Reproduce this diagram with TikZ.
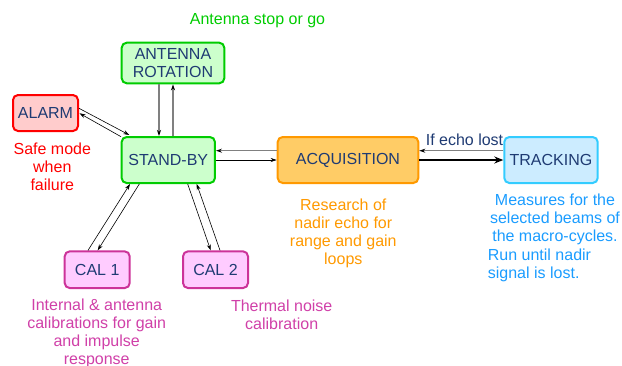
\documentclass[tikz,border=0pt]{standalone}
\usepackage{fontspec}
\setmainfont{Liberation Sans}
\usetikzlibrary{arrows.meta,calc}
\definecolor{navy}{HTML}{1F3B73}
\definecolor{gfill}{HTML}{CCFFCC}
\definecolor{gline}{HTML}{00CC00}
\definecolor{rfill}{HTML}{FFCCCC}
\definecolor{rline}{HTML}{FF0000}
\definecolor{ofill}{HTML}{FFCC66}
\definecolor{oline}{HTML}{FF9900}
\definecolor{bfill}{HTML}{CCECFF}
\definecolor{bline}{HTML}{33CCFF}
\definecolor{mfill}{HTML}{FFCCFF}
\definecolor{mline}{HTML}{CC3399}
\definecolor{btext}{HTML}{1A9CFF}
\definecolor{mtext}{HTML}{D040A8}
\begin{document}
\begin{tikzpicture}[x=1pt,y=-1pt,
  box/.style={draw, rounded corners=5pt, line width=2pt, text=navy, align=center,
    inner sep=0pt, font=\fontsize{16}{18}\selectfont},
  note/.style={align=center, inner sep=0pt, font=\fontsize{16}{18}\selectfont},
  arr/.style={-{Stealth[length=6pt,width=4pt]}, line width=0.6pt, draw=black},
  garr/.style={-{Stealth[length=6pt,width=4pt,color=black]}, line width=1.4pt, draw=gray},
  thick arr/.style={-{Stealth[length=9pt,width=7pt]}, line width=2.2pt, draw=black}]
\useasboundingbox (0,0) rectangle (622,365);

% boxes
\node[box, fill=gfill, draw=gline, minimum width=102.6pt, minimum height=40.6pt] (ant) at (173,63) {ANTENNA\\ROTATION};
\node[box, fill=rfill, draw=rline, minimum width=65pt, minimum height=36pt] (alarm) at (45.5,113) {ALARM};
\node[box, fill=gfill, draw=gline, minimum width=93.3pt, minimum height=46pt] (sb) at (168.3,160) {STAND-BY};
\node[box, fill=ofill, draw=oline, minimum width=140.6pt, minimum height=46pt] (acq) at (348,160) {ACQUISITION};
\node[box, fill=bfill, draw=bline, minimum width=93.4pt, minimum height=46pt] (trk) at (551,160) {TRACKING};
\node[box, fill=mfill, draw=mline, minimum width=65pt, minimum height=36.7pt] (cal1) at (97.2,269.7) {CAL 1};
\node[box, fill=mfill, draw=mline, minimum width=65pt, minimum height=36.7pt] (cal2) at (215.5,269.7) {CAL 2};

% notes
\node[note, text=gline] (n1) at (257.5,21) {Antenna stop or go};
\node[note, text=rline] (n2) at (52.3,167) {Safe mode\\when\\failure};
\node[note, text=navy] (n3) at (464.5,140) {If echo lost};
\node[note, text=oline] (n4) at (343.3,233.5) {Research of\\nadir echo for\\range and gain\\loops};
\node[note, text=btext] (n5) at (555,219.7) {Measures for the\\selected beams of\\the macro-cycles.};
\node[note, text=btext, align=left, anchor=west] (n6) at (487.7,265) {Run until nadir\\signal is lost.};
\node[note, text=mtext] (n7) at (96.7,333) {Internal \& antenna\\calibrations for gain\\and impulse\\response};
\node[note, text=mtext] (n8) at (281.7,315) {Thermal noise\\calibration};

% antenna <-> stand-by
\coordinate (a1) at ($(ant.south)+(-14,0)$);
\draw[garr] (a1) -- (a1 |- sb.north);
\draw[garr] (ant.south |- sb.north) -- (ant.south);

% alarm <-> stand-by
\draw[arr] ($(alarm.east)+(0,-4.7)$) -- ($(sb.north west)+(8.7,-1)$);
\draw[arr] ($(sb.north west)+(0.4,0.7)$) -- ($(alarm.east)+(0.5,0.3)$);

% stand-by <-> acquisition
\coordinate (g1) at ($(acq.west)+(0,-9.3)$);
\draw[garr] (g1) -- (g1 -| sb.east);
\draw[arr] (sb.east) -- (acq.west);

% acquisition <-> tracking
\coordinate (g2) at ($(trk.west)+(0,-9.3)$);
\draw[garr] (g2) -- (g2 -| acq.east);
\draw[thick arr] (acq.east) -- (trk.west);

% stand-by <-> cal 1
\draw[arr] ($(cal1.north)+(-9.2,0)$) -- ($(sb.south)+(-38.3,0)$);
\draw[arr] ($(sb.south)+(-29,0)$) -- ($(cal1.north)+(0.5,0)$);

% stand-by <-> cal 2
\draw[arr] ($(sb.south)+(19.4,0)$) -- ($(cal2.north)+(-4.8,0)$);
\draw[arr] ($(cal2.north)+(4.5,0)$) -- ($(sb.south)+(28.4,0)$);
\end{tikzpicture}
\end{document}
